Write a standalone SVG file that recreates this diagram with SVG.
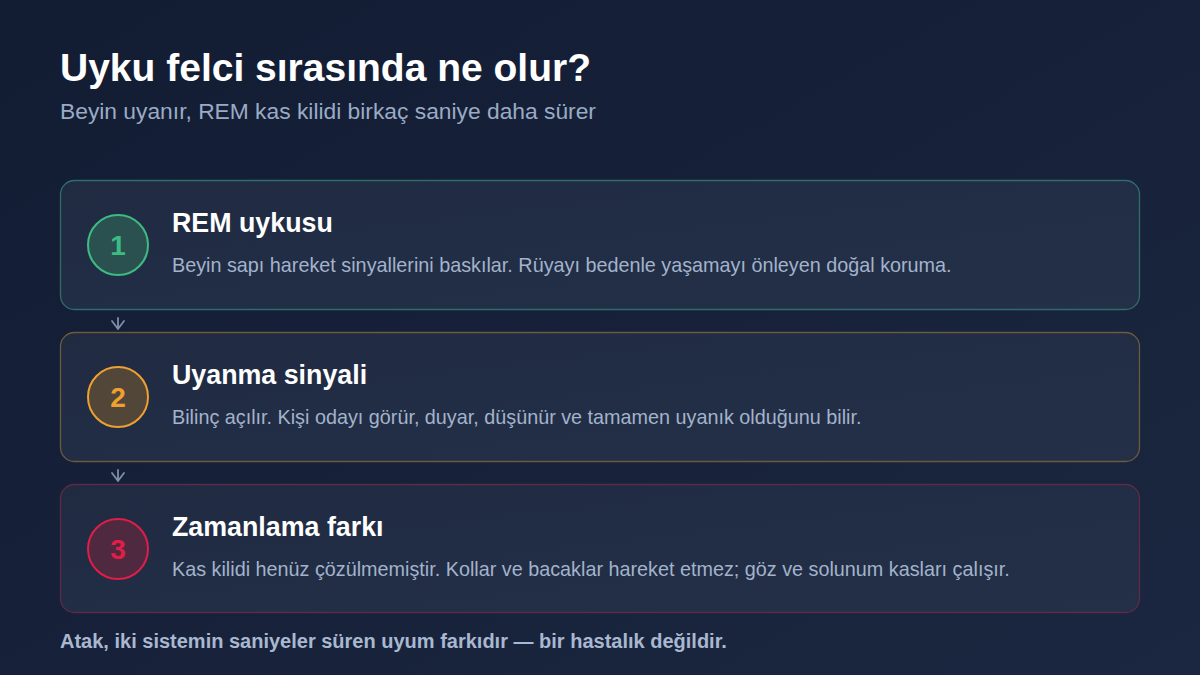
<svg xmlns="http://www.w3.org/2000/svg" width="1200" height="675" viewBox="0 0 1200 675">
<defs>
<linearGradient id="bg" x1="0" y1="0" x2="1" y2="1">
<stop offset="0" stop-color="#121c33"/>
<stop offset="1" stop-color="#1b2740"/>
</linearGradient>
<linearGradient id="card" x1="0" y1="0" x2="1" y2="1">
<stop offset="0" stop-color="#202b42"/>
<stop offset="1" stop-color="#233048"/>
</linearGradient>
</defs>
<style>
text{font-family:"Liberation Sans",Arial,sans-serif}
.h1{font-size:39px;font-weight:700;fill:#ffffff}
.sub{font-size:22.8px;fill:#9aabc4}
.t{font-size:26.8px;font-weight:700;fill:#ffffff}
.d{font-size:19.8px;fill:#a3b3cb}
.num{font-size:28px;font-weight:700;text-anchor:middle}
.foot{font-size:20px;font-weight:700;fill:#a9b8d0}
.box{fill:url(#card);stroke-width:1.3}
.conn{stroke:#7f8da6;stroke-width:1.8;fill:none;stroke-linecap:round;stroke-linejoin:round}
</style>
<rect width="1200" height="675" fill="url(#bg)"/>
<text class="h1" x="60" y="81">Uyku felci sırasında ne olur?</text>
<text class="sub" x="60" y="119">Beyin uyanır, REM kas kilidi birkaç saniye daha sürer</text>

<g id="connectors">
<path class="conn" d="M112 321 L118 329 L124 321 M118 318 L118 329"/>
<path class="conn" d="M112 473 L118 481 L124 473 M118 470 L118 481"/>
</g>

<g id="step1">
<rect class="box" x="60.5" y="180.5" width="1079" height="129" rx="14" stroke="#2f6e68"/>
<circle cx="118" cy="245" r="30" fill="#2a5150" stroke="#3dbb82" stroke-width="2"/>
<text class="num" x="118" y="255" fill="#3dbb82">1</text>
<text class="t" x="172" y="232">REM uykusu</text>
<text class="d" x="172" y="272">Beyin sapı hareket sinyallerini baskılar. Rüyayı bedenle yaşamayı önleyen doğal koruma.</text>
</g>

<g id="step2">
<rect class="box" x="60.5" y="332.5" width="1079" height="129" rx="14" stroke="#6b5a3c"/>
<circle cx="118" cy="397" r="30" fill="#514638" stroke="#f0a030" stroke-width="2"/>
<text class="num" x="118" y="407" fill="#f0a030">2</text>
<text class="t" x="172" y="384">Uyanma sinyali</text>
<text class="d" x="172" y="424">Bilinç açılır. Kişi odayı görür, duyar, düşünür ve tamamen uyanık olduğunu bilir.</text>
</g>

<g id="step3">
<rect class="box" x="60.5" y="484.5" width="1079" height="128" rx="14" stroke="#5e2a45"/>
<circle cx="118" cy="549" r="30" fill="#4e2940" stroke="#e11d48" stroke-width="2"/>
<text class="num" x="118" y="559" fill="#e11d48">3</text>
<text class="t" x="172" y="536">Zamanlama farkı</text>
<text class="d" x="172" y="576">Kas kilidi henüz çözülmemiştir. Kollar ve bacaklar hareket etmez; göz ve solunum kasları çalışır.</text>
</g>

<text class="foot" x="60" y="648">Atak, iki sistemin saniyeler süren uyum farkıdır — bir hastalık değildir.</text>
</svg>
